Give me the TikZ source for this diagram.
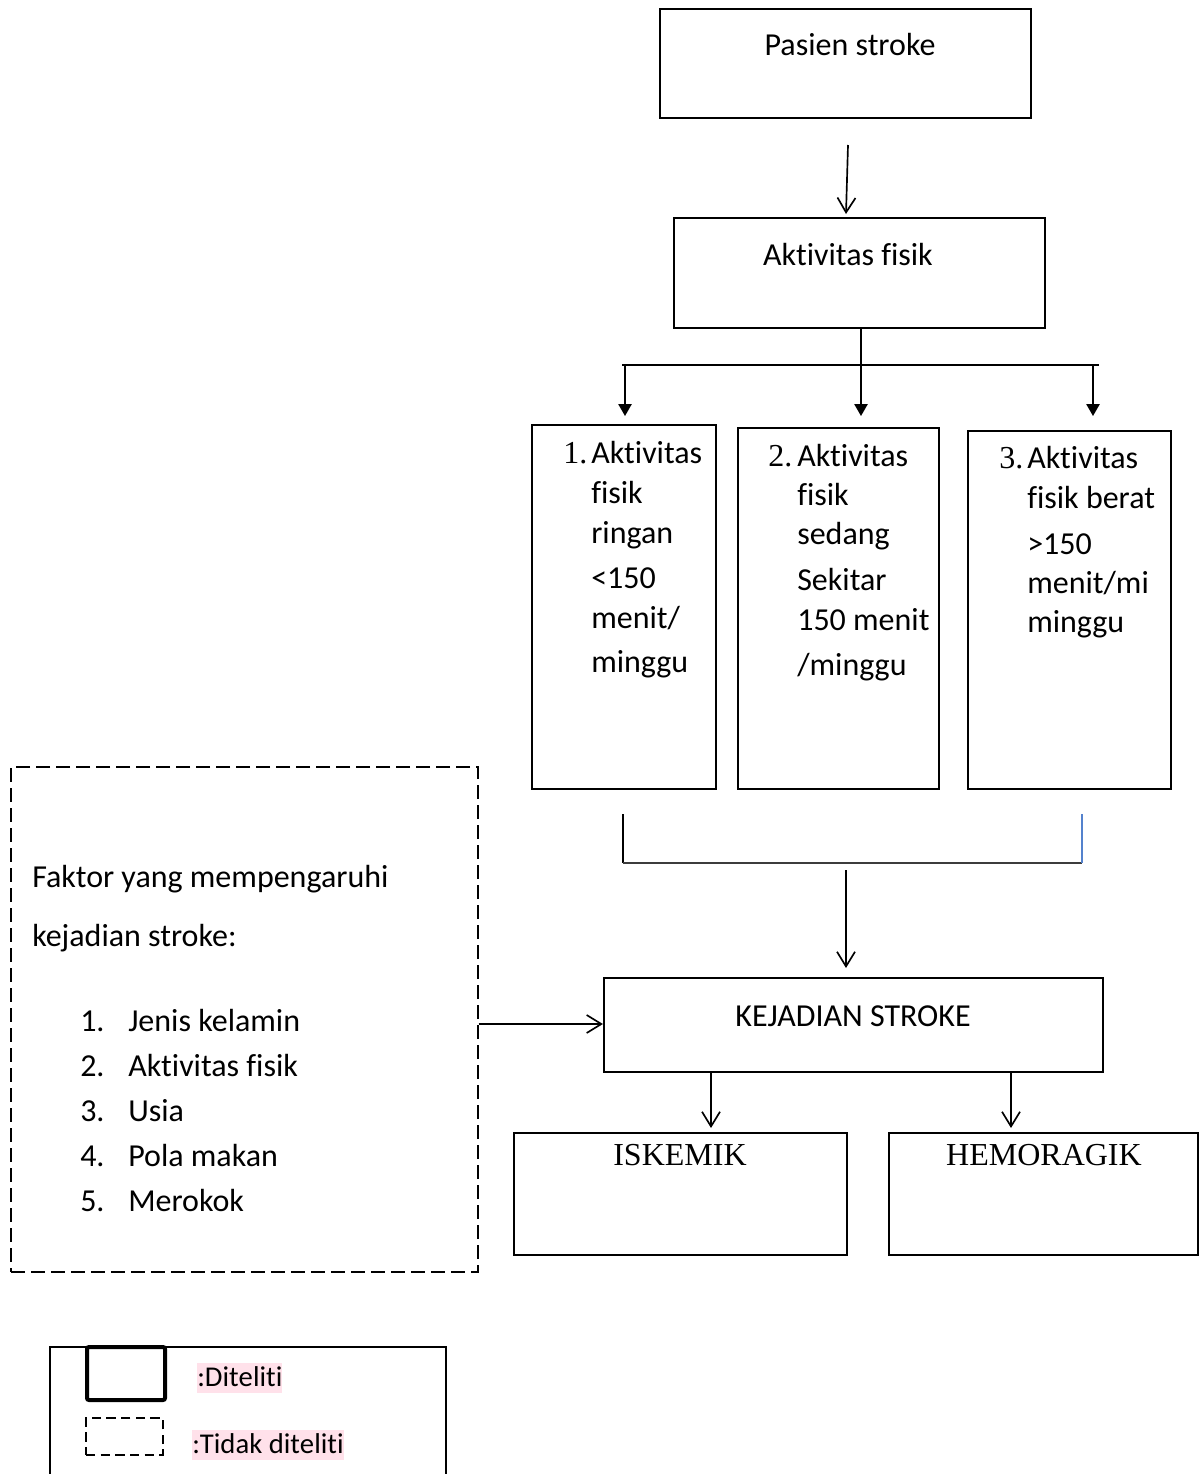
\documentclass[tikz,border=0pt]{standalone}
\usepackage{fontspec}
\setmainfont{Carlito}[Ligatures={NoCommon,NoRare,NoContextual}]
\newfontfamily\tnr{Liberation Serif}
\usetikzlibrary{arrows.meta}
\definecolor{hlpink}{RGB}{255,225,234}
\definecolor{bracketblue}{RGB}{84,130,205}
\definecolor{darkline}{RGB}{60,60,60}
\newcommand\nolig{\kern0pt{}}
\newcommand\pxbox[6][solidbox]{%
  \node[#1, minimum width={(#5-#3)*0.75pt}, minimum height={(#6-#4)*0.75pt}]
    (#2) at ({(#3+#5)/2},{(#4+#6)/2}) {};}
\begin{document}
\begin{tikzpicture}[x=0.75pt,y=-0.75pt,
  solidbox/.style={draw, line width=1.6pt, inner sep=0pt},
  dashbox/.style={draw, line width=1.1pt, inner sep=0pt, dash pattern=on 10.5pt off 4.5pt},
  legdash/.style={draw, line width=1.1pt, inner sep=0pt, dash pattern=on 7pt off 4pt},
  thickbox/.style={draw, line width=3pt, inner sep=0pt, rounded corners=1.5pt},
  legframe/.style={draw, line width=1.1pt, inner sep=0pt},
  lbl/.style={font=\fontsize{24}{28}\selectfont, inner sep=0pt},
  tlbl/.style={font=\fontsize{24}{28}\selectfont\tnr, inner sep=0pt},
  leglbl/.style={font=\fontsize{21.5}{25}\selectfont, inner sep=0pt, fill=hlpink,
     text height=17pt, text depth=5.5pt},
  conn/.style={line width=1.25pt},
  openarr/.style={conn, -{Straight Barb[length=11pt, width=13.5pt, line width=1.25pt]}},
  fillarr/.style={conn, -{Triangle[length=9pt, width=10pt]}}
]
\useasboundingbox (0,0) rectangle (1203,1474);
\clip (0,0) rectangle (1203,1474);

% ---- boxes ----
\pxbox{pas}{660}{9}{1031}{118}
\pxbox{akt}{674}{218}{1045}{328}
\pxbox{b1}{532}{425}{716}{789}
\pxbox{b2}{738}{428}{939}{789}
\pxbox{b3}{968}{431}{1171}{789}
\pxbox{kej}{604}{978}{1103}{1072}
\pxbox{isk}{514}{1133}{847}{1255}
\pxbox{hem}{889}{1133}{1198}{1255}
\pxbox[dashbox]{fak}{11}{767}{478}{1272}
\pxbox[legframe]{leg}{50}{1347}{446}{1520}
\pxbox[thickbox]{legsolid}{87}{1347}{165}{1400}
\pxbox[legdash]{legdashed}{86}{1418}{163}{1455}

% ---- texts ----
\node[lbl, anchor=base] (tpas) at (850,55) {Pasien stroke};
\node[lbl, anchor=base] (takt) at (848,265) {Akt\nolig ivitas f\nolig isik};

\node[tlbl, anchor=base west] (n1) at (563,463) {1.};
\node[lbl, anchor=base west] (b1l1) at (591,463) {Akt\nolig ivitas};
\node[lbl, anchor=base west] (b1l2) at (591,503) {f\nolig isik};
\node[lbl, anchor=base west] (b1l3) at (591,543) {ringan};
\node[lbl, anchor=base west] (b1l4) at (591,588) {<150};
\node[lbl, anchor=base west] (b1l5) at (591,628) {menit/};
\node[lbl, anchor=base west] (b1l6) at (591,672) {minggu};

\node[tlbl, anchor=base west] (n2) at (768,466) {2.};
\node[lbl, anchor=base west] (b2l1) at (797,466) {Akt\nolig ivitas};
\node[lbl, anchor=base west] (b2l2) at (797,505) {f\nolig isik};
\node[lbl, anchor=base west] (b2l3) at (797,544) {sedang};
\node[lbl, anchor=base west] (b2l4) at (797,590) {Sekitar};
\node[lbl, anchor=base west] (b2l5) at (797,630) {150 menit};
\node[lbl, anchor=base west] (b2l6) at (797,675) {/minggu};

\node[tlbl, anchor=base west] (n3) at (999,468) {3.};
\node[lbl, anchor=base west] (b3l1) at (1027,468) {Akt\nolig ivitas};
\node[lbl, anchor=base west] (b3l2) at (1027,508) {f\nolig isik berat};
\node[lbl, anchor=base west] (b3l3) at (1027,554) {>150};
\node[lbl, anchor=base west] (b3l4) at (1027,593) {menit/mi};
\node[lbl, anchor=base west] (b3l5) at (1027,632) {minggu};

\node[lbl, anchor=base] (tkej) at (853,1026) {KEJADIAN STROKE};
\node[tlbl, anchor=base] (tisk) at (680,1165) {ISKEMIK};
\node[tlbl, anchor=base] (them) at (1044,1165) {HEMORAGIK};

\node[lbl, anchor=base west] (f1) at (32,887) {Faktor yang mempengaruhi};
\node[lbl, anchor=base west] (f2) at (32,946) {kejadian stroke:};
\foreach \i/\t [count=\k] in {1/Jenis kelamin,2/Akt\nolig ivitas f\nolig isik,3/Usia,4/Pola makan,5/Merokok}{
  \node[lbl, anchor=base west] (fn\k) at (80,{1031+(\k-1)*45}) {\i.};
  \node[lbl, anchor=base west] (ft\k) at (128,{1031+(\k-1)*45}) {\t};
}

\node[leglbl, anchor=base west] (ld1) at (197,1386) {:Dit\nolig elit\nolig i};
\node[leglbl, anchor=base west] (ld2) at (192,1453) {:Tidak dit\nolig elit\nolig i};

% ---- connectors ----
\coordinate (c1s) at (848,145);
\coordinate (c1e) at (846,214);
\draw[openarr] (c1s) -- (c1e);

\coordinate (brtop) at (861,328);
\coordinate (brL) at (622,365);
\coordinate (brR) at (1099,365);
\coordinate (t1) at (625,416);
\coordinate (t2) at (861,416);
\coordinate (t3) at (1093,416);
\draw[conn] (brL) -- (brR);
\draw[fillarr] (brtop) -- (t2);
\draw[fillarr] (t1 |- brL) -- (t1);
\draw[fillarr] (t3 |- brR) -- (t3);

\coordinate (bkL1) at (623,814);
\coordinate (bkL2) at (623,863);
\coordinate (bkR1) at (1082,814);
\coordinate (bkR2) at (1082,863);
\draw[conn] (bkL1) -- (bkL2);
\draw[conn, darkline] (bkL2) -- (bkR2);
\draw[conn, bracketblue] (bkR1) -- (bkR2);

\coordinate (c2s) at (846,870);
\coordinate (c2e) at (846,968);
\draw[openarr] (c2s) -- (c2e);

\draw[openarr] (fak.east |- 0,1024) -- (kej.west |- 0,1024);

\coordinate (c3s) at (711,1072);
\coordinate (c3e) at (711,1128);
\coordinate (c4s) at (1011,1072);
\coordinate (c4e) at (1011,1128);
\draw[openarr] (c3s) -- (c3e);
\draw[openarr] (c4s) -- (c4e);
\end{tikzpicture}
\end{document}
